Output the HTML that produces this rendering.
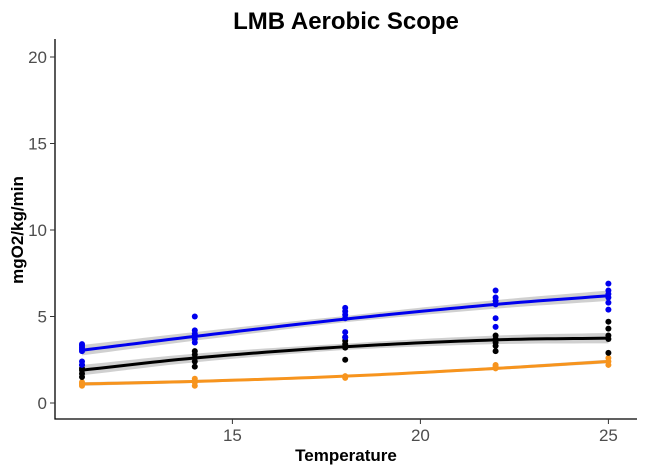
<!DOCTYPE html>
<html><head><meta charset="utf-8"><style>
body{margin:0;background:#fff}
svg{display:block;font-family:"Liberation Sans",Arial,sans-serif}
</style></head><body>
<svg id="chart" width="645" height="472" viewBox="0 0 645 472">
<text x="346" y="29" text-anchor="middle" font-size="24" font-weight="bold">LMB Aerobic Scope</text>
<text transform="translate(23,230) rotate(-90)" text-anchor="middle" font-size="17" font-weight="bold">mgO2/kg/min</text>
<text x="346" y="461" text-anchor="middle" font-size="17" font-weight="bold">Temperature</text>
<g id="bands"></g><g id="lines"></g><g id="pts"></g><g id="axes"></g>
</svg>
<script>
const temps=[11,14,18,22,25];
const blueFit=[3.05,3.85,4.85,5.7,6.2];
const blackFit=[1.9,2.6,3.25,3.65,3.75];
const orangeFit=[1.1,1.25,1.55,2.0,2.4];
const bluePts=[[3.0,3.1,3.2,3.3,3.4,2.4,2.2],[5.0,4.2,4.0,3.9,3.7,3.5],[5.5,5.3,5.1,4.9,4.1,3.8],[6.5,6.1,5.9,5.7,4.9,4.4],[6.9,6.5,6.3,6.1,5.8,5.4]];
const blackPts=[[2.2,2.0,1.9,1.7,1.5],[3.0,2.8,2.6,2.4,2.1],[3.8,3.6,3.4,3.2,2.5],[3.9,3.7,3.5,3.3,3.0],[4.7,4.3,3.9,3.7,2.9]];
const orangePts=[[1.0,1.1,1.2],[1.0,1.2,1.4],[1.45,1.55],[2.0,2.1,2.2],[2.2,2.4,2.6]];
const yTicks=[0,5,10,15,20];
const xTicks=[15,20,25];
const sx=t=>82+(t-11)*37.6;
const sy=v=>403-v*17.3;
const NS='http://www.w3.org/2000/svg';
function mk(tag,attrs,parent){const e=document.createElementNS(NS,tag);for(const k in attrs)e.setAttribute(k,attrs[k]);document.getElementById(parent).appendChild(e);return e;}
function interp(fit,t){
  let i=0;while(i<temps.length-2&&t>temps[i+1])i++;
  const x0=temps[i],x1=temps[i+1],u=(t-x0)/(x1-x0);
  const slope=j=>{if(j===0)return (fit[1]-fit[0])/(temps[1]-temps[0]);const n=temps.length-1;if(j===n)return (fit[n]-fit[n-1])/(temps[n]-temps[n-1]);return (fit[j+1]-fit[j-1])/(temps[j+1]-temps[j-1]);};
  const m0=slope(i)*(x1-x0),m1=slope(i+1)*(x1-x0);
  const h00=2*u*u*u-3*u*u+1,h10=u*u*u-2*u*u+u,h01=-2*u*u*u+3*u*u,h11=u*u*u-u*u;
  return h00*fit[i]+h10*m0+h01*fit[i+1]+h11*m1;
}
function series(fit,pts,color,name,bw){
  const up=[],lo=[],ln=[];
  for(let k=0;k<=60;k++){const t=11+14*k/60;const v=interp(fit,t);const w=bw*(0.18+0.12*Math.abs(t-18)/7);
    up.push(sx(t)+','+sy(v+w));lo.unshift(sx(t)+','+sy(v-w));ln.push(sx(t)+','+sy(v));}
  const b=mk('polygon',{points:up.concat(lo).join(' '),fill:'#c8c8c8',opacity:0.85},'bands');
  
  
  pts.forEach((arr,i)=>arr.forEach(v=>{const c=mk('circle',{cx:sx(temps[i]),cy:sy(v),r:3,fill:color},'pts');
    
    }));
  const l=mk('polyline',{points:ln.join(' '),fill:'none',stroke:color,'stroke-width':3},'lines');
  
  
}
series(orangeFit,orangePts,'#f7941d','orange',0.35);
series(blackFit,blackPts,'#000000','black',1);
series(blueFit,bluePts,'#0000ee','blue',1);
const ax=mk('path',{d:'M55,39 V419 H637',fill:'none',stroke:'#000','stroke-width':1.3},'axes');


yTicks.forEach(v=>{mk('line',{x1:50,x2:55,y1:sy(v),y2:sy(v),stroke:'#333'},'axes');
  const t=mk('text',{x:47,y:sy(v)+6,'text-anchor':'end','font-size':17,fill:'#4d4d4d'},'axes');t.textContent=v;
  
  });
xTicks.forEach(v=>{mk('line',{x1:sx(v),x2:sx(v),y1:419,y2:424,stroke:'#333'},'axes');
  const t=mk('text',{x:sx(v),y:441,'text-anchor':'middle','font-size':17,fill:'#4d4d4d'},'axes');t.textContent=v;
  
  });
</script>
</body></html>
